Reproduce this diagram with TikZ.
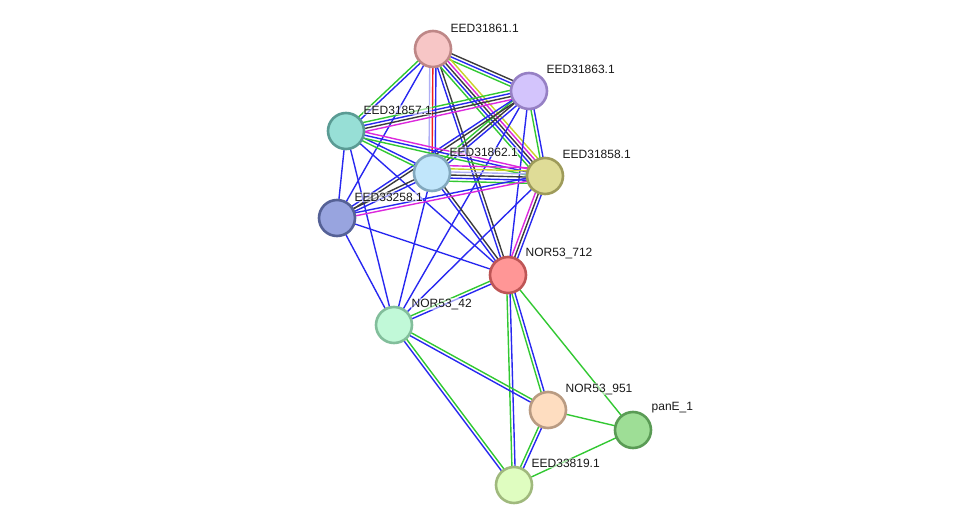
\documentclass[tikz,border=0pt]{standalone}
\usepackage{fontspec}
\setmainfont{Liberation Sans}
\usetikzlibrary{calc,backgrounds}
\definecolor{sg}{RGB}{50,200,50}
\definecolor{sb}{RGB}{40,40,240}
\definecolor{sk}{RGB}{60,60,60}
\definecolor{sm}{RGB}{220,40,220}
\definecolor{sy}{RGB}{200,210,40}
\definecolor{sr}{RGB}{240,30,30}
\definecolor{sl}{RGB}{175,175,245}
\tikzset{
  egr/.style={draw=sg,line width=1.4},
  ebl/.style={draw=sb,line width=1.4},
  ebk/.style={draw=sk,line width=1.4},
  emg/.style={draw=sm,line width=1.4},
  eyl/.style={draw=sy,line width=1.4},
  erd/.style={draw=sr,line width=1.4},
  elv/.style={draw=sl,line width=1.4},
  prot/.style={circle,minimum size=36,inner sep=0,line width=2.6},
  lab/.style={anchor=west,font=\fontsize{12}{14}\selectfont,text=black!90,inner sep=0.5,fill=white,fill opacity=0.55,text opacity=1}
}
\newcommand\medge[4]{%
  \foreach \c [count=\i] in {#4} {
    \pgfmathsetmacro\o{(\i-(#3+1)/2)*3.1}
    \draw[\c] ($(#1.center)!\o pt!90:(#2.center)$) -- ($(#2.center)!\o pt!-90:(#1.center)$);
  }}
\begin{document}
\begin{tikzpicture}[x=1pt,y=-1pt]
\useasboundingbox (0,0) rectangle (975,530);
\node[prot,fill={rgb,255:red,247;green,198;blue,198},draw={rgb,255:red,190;green,135;blue,135}] (A) at (433,49) {};
\node[prot,fill={rgb,255:red,211;green,196;blue,252},draw={rgb,255:red,150;green,128;blue,196}] (B) at (529,91) {};
\node[prot,fill={rgb,255:red,151;green,223;blue,214},draw={rgb,255:red,90;green,155;blue,148}] (C) at (346,131) {};
\node[prot,fill={rgb,255:red,193;green,230;blue,251},draw={rgb,255:red,130;green,168;blue,190}] (D) at (432,173) {};
\node[prot,fill={rgb,255:red,223;green,220;blue,151},draw={rgb,255:red,158;green,155;blue,90}] (E) at (545,176) {};
\node[prot,fill={rgb,255:red,152;green,164;blue,223},draw={rgb,255:red,85;green,97;blue,150}] (F) at (337,218) {};
\node[prot,fill={rgb,255:red,255;green,150;blue,150},draw={rgb,255:red,190;green,85;blue,85}] (G) at (508,275) {};
\node[prot,fill={rgb,255:red,193;green,249;blue,216},draw={rgb,255:red,130;green,190;blue,155}] (H) at (394,325) {};
\node[prot,fill={rgb,255:red,254;green,221;blue,192},draw={rgb,255:red,185;green,155;blue,130}] (I) at (548,410) {};
\node[prot,fill={rgb,255:red,158;green,222;blue,150},draw={rgb,255:red,90;green,155;blue,85}] (J) at (633,430) {};
\node[prot,fill={rgb,255:red,223;green,253;blue,192},draw={rgb,255:red,160;green,185;blue,125}] (K) at (514,485) {};
\begin{pgfonlayer}{background}
\medge{A}{C}{2}{egr,ebl}
\medge{A}{F}{1}{ebl}
\medge{A}{D}{3}{elv,erd,ebl}
\medge{A}{G}{2}{ebl,ebk}
\medge{A}{B}{3}{egr,ebl,ebk}
\medge{A}{E}{5}{egr,ebl,ebk,emg,eyl}
\medge{B}{C}{4}{egr,ebl,ebk,emg}
\medge{B}{D}{3}{egr,ebk,ebl}
\medge{B}{E}{2}{egr,ebl}
\medge{B}{F}{2}{ebl,ebk}
\medge{B}{G}{1}{ebl}
\medge{B}{H}{1}{ebl}
\medge{C}{D}{2}{egr,ebl}
\medge{C}{E}{3}{egr,ebl,emg}
\medge{C}{F}{1}{ebl}
\medge{C}{G}{1}{ebl}
\medge{C}{H}{1}{ebl}
\medge{D}{E}{6}{egr,ebl,ebk,elv,eyl,emg}
\medge{D}{F}{2}{ebk,ebl}
\medge{D}{G}{2}{ebl,ebk}
\medge{D}{H}{1}{ebl}
\medge{E}{F}{2}{ebl,emg}
\medge{E}{G}{3}{emg,ebk,ebl}
\medge{E}{H}{1}{ebl}
\medge{F}{G}{1}{ebl}
\medge{F}{H}{1}{ebl}
\medge{G}{H}{2}{egr,ebl}
\medge{G}{I}{2}{egr,ebl}
\medge{G}{K}{2}{egr,ebl}
\medge{G}{J}{1}{egr}
\medge{H}{I}{2}{ebl,egr}
\medge{H}{K}{2}{ebl,egr}
\medge{I}{J}{1}{egr}
\medge{I}{K}{2}{egr,ebl}
\medge{J}{K}{1}{egr}
\end{pgfonlayer}
\node[lab] (lA) at (450,28) {EED31861.1};
\node[lab] (lB) at (546,69) {EED31863.1};
\node[lab] (lC) at (363,110) {EED31857.1};
\node[lab] (lD) at (449,152) {EED31862.1};
\node[lab] (lE) at (562,154) {EED31858.1};
\node[lab] (lF) at (354,197) {EED33258.1};
\node[lab] (lG) at (525,254) {NOR53\_712};
\node[lab] (lH) at (411,304) {NOR53\_42};
\node[lab] (lI) at (565,389) {NOR53\_951};
\node[lab] (lJ) at (651,408) {panE\_1};
\node[lab] (lK) at (531,463) {EED33819.1};
\end{tikzpicture}
\end{document}
